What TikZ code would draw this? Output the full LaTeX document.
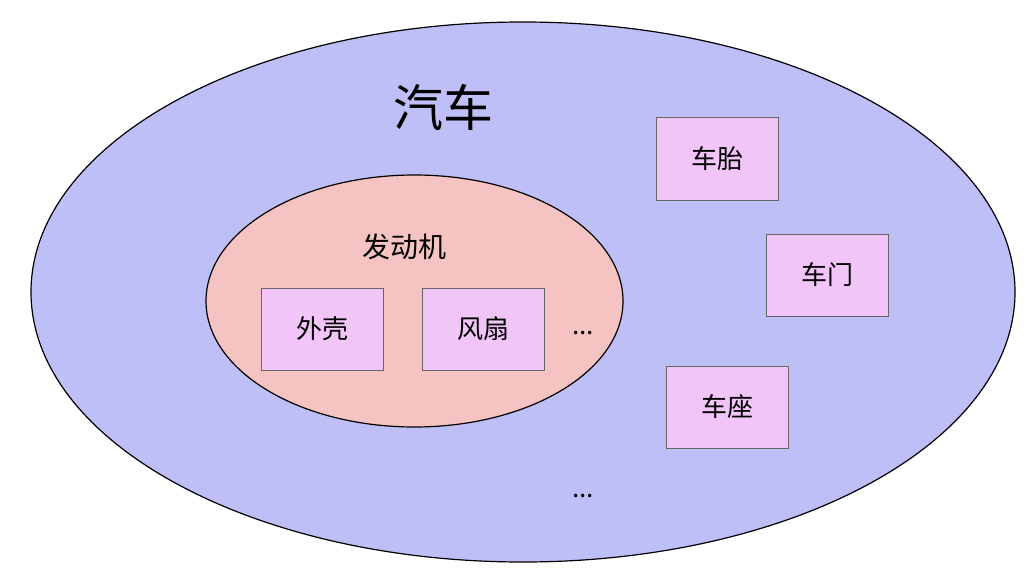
\documentclass[tikz,border=0pt]{standalone}
\usetikzlibrary{shapes.geometric}
\usepackage{fontspec}
\newfontfamily\cjk{Noto Sans CJK SC}
\definecolor{outerc}{HTML}{BFBFF8}
\definecolor{innerc}{HTML}{F4C3C2}
\definecolor{boxc}{HTML}{F2C5F8}
\tikzset{partbox/.style={draw=gray!80!black,fill=boxc,minimum width=122pt,minimum height=82pt,font=\cjk\fontsize{26}{30}\selectfont,line width=1pt}}
\begin{document}
\begin{tikzpicture}[x=1pt,y=-1pt]
\useasboundingbox (0,0) rectangle (1035,588);
\node[draw,line width=1.2pt,fill=outerc,ellipse,minimum width=984pt,minimum height=540pt,inner sep=0] (car) at (523,292) {};
\node[draw,line width=1.2pt,fill=innerc,ellipse,minimum width=417pt,minimum height=252pt,inner sep=0] (engine) at (414.5,301) {};
\node[font=\cjk\fontsize{50}{54}\selectfont] (cart) at (443,107) {汽车};
\node[font=\cjk\fontsize{28}{32}\selectfont] (engt) at (404,247) {发动机};
\node[partbox] (shell) at (322,329) {外壳};
\node[partbox] (fan) at (483,329) {风扇};
\node[partbox] (tire) at (717,159) {车胎};
\node[partbox] (door) at (827,275) {车门};
\node[partbox] (seat) at (727,407) {车座};
\node[font=\cjk\fontsize{26}{30}\selectfont] (dots1) at (583,333) {...};
\node[font=\cjk\fontsize{26}{30}\selectfont] (dots2) at (583,496) {...};
\end{tikzpicture}
\end{document}
